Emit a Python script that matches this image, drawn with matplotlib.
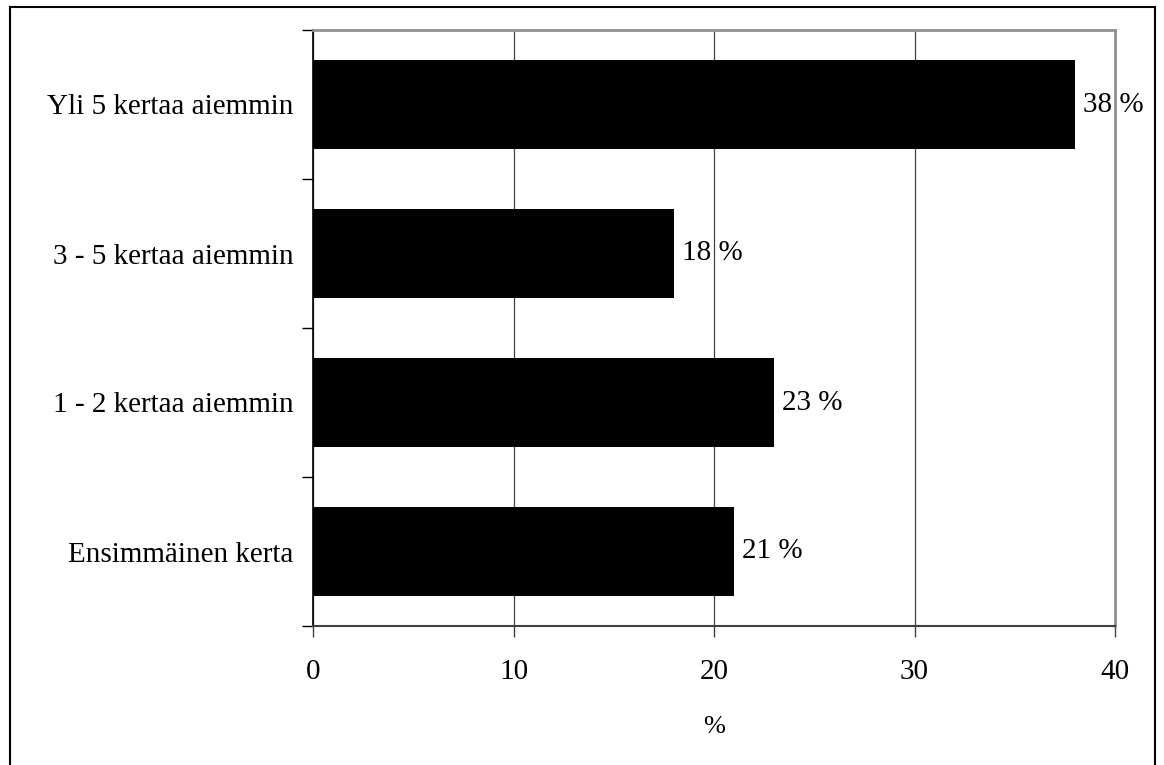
import matplotlib.pyplot as plt
from matplotlib.patches import Rectangle

# Kyselyn tulokset (%)
kategoriat = ["Ensimmäinen kerta", "1 - 2 kertaa aiemmin", "3 - 5 kertaa aiemmin", "Yli 5 kertaa aiemmin"]
osuudet = [21, 23, 18, 38]
x_tikit = [0, 10, 20, 30, 40]

plt.rcParams['font.family'] = ['Liberation Serif', 'DejaVu Serif']

fig = plt.figure(figsize=(11.64, 7.65), dpi=100)
ax = fig.add_axes([313 / 1164, 1 - 626 / 765, (1115 - 313) / 1164, (626 - 30) / 765])

# Kaavion ulkokehys (alareuna jää kuvan ulkopuolelle)
fig.patches.append(Rectangle((9.5 / 1164, -0.05), (1155 - 9.5) / 1164, 1.05 - 7 / 765,
                             transform=fig.transFigure, fill=False, edgecolor='black', linewidth=1.5))

y = range(len(kategoriat))
ax.barh(y, osuudet, height=0.6, color='black', zorder=3)

for yi, v in zip(y, osuudet):
    ax.text(v + 0.4, yi, f"{v} %", va='center', ha='left', fontsize=21, zorder=4)

ax.set_xlim(0, 40)
ax.set_ylim(-0.5, len(kategoriat) - 0.5)
ax.set_xticks(x_tikit)
ax.set_xticklabels([str(t) for t in x_tikit], fontsize=21)
ax.tick_params(axis='x', length=8, width=1, color='#404040', pad=16)
ax.xaxis.grid(True, color='#404040', linewidth=0.9, zorder=0)

# Luokkien rajat tikkeinä, nimet minor-tikeissä
ax.set_yticks([i - 0.5 for i in range(len(kategoriat) + 1)])
ax.set_yticklabels([])
ax.tick_params(axis='y', which='major', length=8, width=1, color='black')
ax.set_yticks(list(y), minor=True)
ax.set_yticklabels(kategoriat, minor=True, fontsize=21)
ax.tick_params(axis='y', which='minor', length=0, pad=14)

ax.set_xlabel("%", fontsize=19, labelpad=22)

ax.spines['left'].set_color('black')
ax.spines['left'].set_linewidth(1.2)
ax.spines['bottom'].set_color('#404040')
ax.spines['bottom'].set_linewidth(1.5)
ax.spines['top'].set_color('#909090')
ax.spines['top'].set_linewidth(2)
ax.spines['right'].set_color('#909090')
ax.spines['right'].set_linewidth(2)

fig.savefig("out.png", dpi=100)
